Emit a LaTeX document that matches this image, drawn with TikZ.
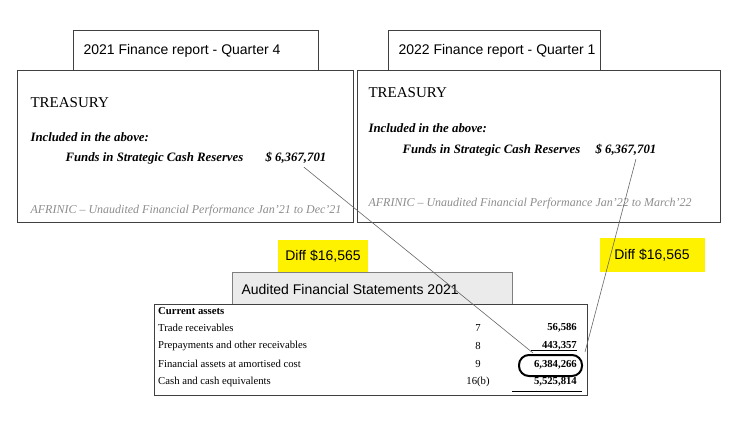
\documentclass[tikz,border=0pt]{standalone}
\usepackage{fontspec}
\setmainfont{Liberation Serif}
\newfontfamily\hdr{Liberation Sans}
\begin{document}
\begin{tikzpicture}[x=1pt,y=-1pt,
  frame/.style={draw=black!75,line width=0.8pt},
  hd/.style={font=\hdr\fontsize{14}{16}\selectfont,anchor=west},
  tr/.style={font=\fontsize{15}{17}\selectfont,anchor=west},
  it/.style={font=\itshape\bfseries\fontsize{12.8}{14}\selectfont,anchor=west},
  ft/.style={font=\itshape\fontsize{12}{14}\selectfont,text=black!45,anchor=west},
  tb/.style={font=\fontsize{10.7}{12}\selectfont,anchor=west,inner sep=0pt},
  tn/.style={font=\fontsize{10.7}{12}\selectfont,inner sep=0pt},
  tv/.style={font=\bfseries\fontsize{10.7}{12}\selectfont,anchor=east,inner sep=0pt},
  diff/.style={fill=yellow,font=\hdr\fontsize{14}{16}\selectfont,inner sep=0pt}]
\useasboundingbox (0,0) rectangle (731,422);
% left
\draw[frame] (73,30) rectangle (318,70);
\node[hd] (h1) at (80,51) {2021 Finance report - Quarter 4};
\draw[frame] (17,70) rectangle (353,222);
\node[tr] (t1) at (27,103) {TREASURY};
\node[it] (i1) at (27,137) {Included in the above:};
\node[it] (f1) at (62,158) {Funds in Strategic Cash Reserves};
\node[it] (v1) at (262,158) {\$ 6,367,701};
\node[ft] (a1) at (27,211) {AFRINIC -- Unaudited Financial Performance Jan'21 to Dec'21};
% right
\draw[frame] (388,30) rectangle (600,70);
\node[hd] (h2) at (395,51) {2022 Finance report - Quarter 1};
\draw[frame] (357,70) rectangle (720,222);
\node[tr] (t2) at (365,93) {TREASURY};
\node[it] (i2) at (365,128) {Included in the above:};
\node[it] (f2) at (399,150) {Funds in Strategic Cash Reserves};
\node[it] (v2) at (592,150) {\$ 6,367,701};
\node[ft] (a2) at (365,204) {AFRINIC -- Unaudited Financial Performance Jan'22 to March'22};
% diffs
\node[diff,minimum width=90pt,minimum height=32pt] (d1) at (323,256) {Diff \$16,565};
\node[diff,minimum width=105pt,minimum height=34pt] (d2) at (652,255) {Diff \$16,565};
% audited
\draw[draw=black!50,fill=black!8,line width=0.8pt] (232,272) rectangle (512,304);
\node[hd] (h3) at (238,289) {Audited Financial Statements 2021};
\draw[draw=black!75,line width=0.8pt] (154,304) rectangle (587,395);
\node[tb,font=\bfseries\fontsize{10.7}{12}\selectfont] (r0) at (158,311) {Current assets};
\node[tb] (r1) at (158,328) {Trade receivables};
\node[tb] (r2) at (158,346) {Prepayments and other receivables};
\node[tb] (r3) at (158,364) {Financial assets at amortised cost};
\node[tb] (r4) at (158,382) {Cash and cash equivalents};
\node[tn] (n1) at (478,328) {7};
\node[tn] (n2) at (478,346) {8};
\node[tn] (n3) at (478,364) {9};
\node[tn] (n4) at (478,382) {16(b)};
\node[tv] (v3) at (577,328) {56,586};
\node[tv] (v4) at (577,346) {443,357};
\node[tv] (v5) at (577,365) {6,384,266};
\node[tv] (v6) at (577,382) {5,525,814};
\draw[line width=0.6pt] (531,350) -- (577,350);
\draw[line width=0.6pt] (512,391) -- (582,391);
\draw[line width=2pt,rounded corners=10pt] (519,355) rectangle (582,376);
\coordinate (e1) at (533,353);
\coordinate (e2) at (585,352);
\draw[black!60,line width=0.6pt] (v1.south) ++(8,0) coordinate (s1) -- (e1);
\draw[black!60,line width=0.6pt] (v2.south) ++(10,0) coordinate (s2) -- (e2);
\end{tikzpicture}
\end{document}
